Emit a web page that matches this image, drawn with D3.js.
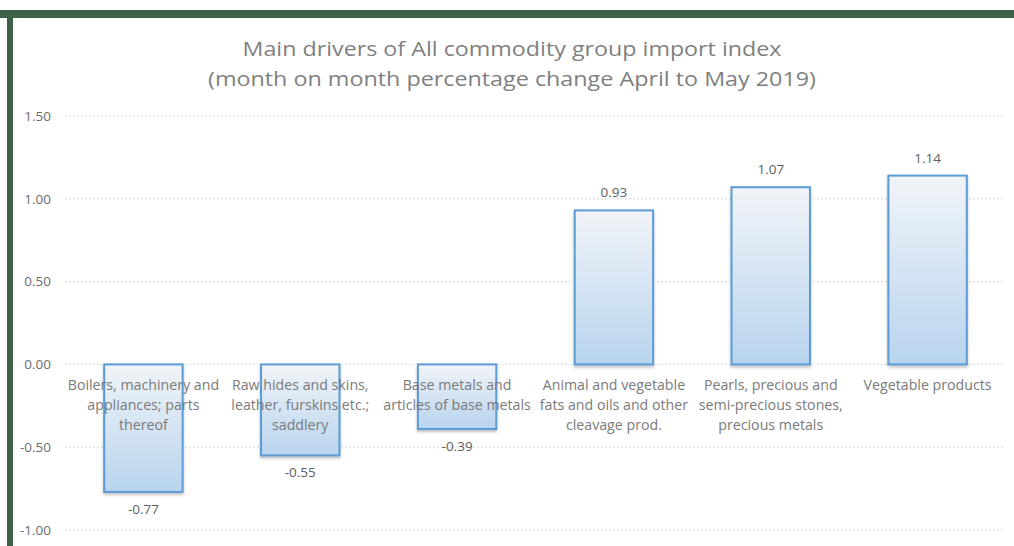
<!DOCTYPE html>
<html>
<head>
<meta charset="utf-8">
<script src="https://cdn.jsdelivr.net/npm/d3@7"></script>
<style>
  html, body { margin: 0; padding: 0; background: #fff; }
  svg { display: block; }
</style>
</head>
<body>
<svg id="chart" width="1014" height="546"></svg>
<script>
const categories = [
  ["Boilers, machinery and", "appliances; parts", "thereof"],
  ["Raw hides and skins,", "leather, furskins etc.;", "saddlery"],
  ["Base metals and", "articles of base metals"],
  ["Animal and vegetable", "fats and oils and other", "cleavage prod."],
  ["Pearls, precious and", "semi-precious stones,", "precious metals"],
  ["Vegetable products"]
];
const values = [-0.77, -0.55, -0.39, 0.93, 1.07, 1.14];
const yTicks = [-1.0, -0.5, 0.0, 0.5, 1.0, 1.5];
const titleLines = [
  "Main drivers of All commodity group import index",
  "(month on month percentage change April to May 2019)"
];
const titleWidths = [539, 608];

const svg = d3.select("#chart");
const W = 1014, H = 546;
const font = "'Open Sans', sans-serif";
const fmt = d => d3.format(".2f")(d).replace("\u2212", "-");

// frame
svg.append("rect").attr("x", 0).attr("y", 10).attr("width", W).attr("height", 8).attr("fill", "#3f6049");
svg.append("rect").attr("x", 7).attr("y", 10).attr("width", 6).attr("height", H - 10).attr("fill", "#3f6049");

const defs = svg.append("defs");
const grad = defs.append("linearGradient").attr("id", "barGrad")
  .attr("x1", 0).attr("y1", 0).attr("x2", 0).attr("y2", 1);
grad.append("stop").attr("offset", "0%").attr("stop-color", "#f1f4f8");
grad.append("stop").attr("offset", "100%").attr("stop-color", "#b8d4ee");
const filt = defs.append("filter").attr("id", "shadow").attr("x", "-20%").attr("y", "-20%").attr("width", "140%").attr("height", "140%");
filt.append("feDropShadow").attr("dx", 0).attr("dy", 2).attr("stdDeviation", 1.5)
  .attr("flood-color", "#000").attr("flood-opacity", 0.25);

const x = d3.scaleBand().domain(d3.range(values.length)).range([65, 1006]).paddingInner(0.5).paddingOuter(0.25);
const y = d3.scaleLinear().domain([-1.0, 1.5]).range([530, 116]);

// gridlines
svg.append("g").selectAll("line").data(yTicks).join("line")
  .attr("x1", 65).attr("x2", 1005)
  .attr("y1", d => y(d)).attr("y2", d => y(d))
  .attr("stroke", "#d9d9d9").attr("stroke-width", 1).attr("stroke-dasharray", "2,2");

// y axis
const yAxis = d3.axisLeft(y).tickValues(yTicks).tickFormat(fmt).tickSize(0).tickPadding(0);
const gy = svg.append("g").attr("transform", "translate(51,0)").call(yAxis);
gy.select(".domain").remove();
gy.selectAll("text").attr("font-family", font).attr("font-size", 13.5).attr("fill", "#6b6b6b");

// bars
svg.append("g").selectAll("rect").data(values).join("rect")
  .attr("x", (d, i) => x(i))
  .attr("width", x.bandwidth())
  .attr("y", d => y(Math.max(0, d)))
  .attr("height", d => Math.abs(y(d) - y(0)))
  .attr("fill", "url(#barGrad)")
  .attr("stroke", "#5b9bd5").attr("stroke-width", 2)
  .attr("filter", "url(#shadow)");

// category labels
const cg = svg.append("g");
categories.forEach((lines, i) => {
  const t = cg.append("text")
    .attr("x", x(i) + x.bandwidth() / 2)
    .attr("y", y(0) + 26)
    .attr("text-anchor", "middle")
    .attr("font-family", font).attr("font-size", 14.2).attr("fill", "#7a7a7a");
  lines.forEach((l, j) => {
    t.append("tspan").attr("x", x(i) + x.bandwidth() / 2).attr("dy", j === 0 ? 0 : 20).text(l);
  });
});

// value labels
svg.append("g").selectAll("text").data(values).join("text")
  .attr("x", (d, i) => x(i) + x.bandwidth() / 2)
  .attr("y", d => d >= 0 ? y(d) - 13 : y(d) + 22)
  .attr("text-anchor", "middle")
  .attr("font-family", font).attr("font-size", 13.5).attr("fill", "#606060")
  .text(fmt);

// title
svg.append("g").selectAll("text").data(titleLines).join("text")
  .attr("x", 512)
  .attr("y", (d, i) => 56 + i * 30)
  .attr("text-anchor", "middle")
  .attr("font-family", font).attr("font-size", 20).attr("fill", "#7f7f7f")
  .attr("textLength", (d, i) => titleWidths[i]).attr("lengthAdjust", "spacingAndGlyphs")
  .text(d => d);
</script>
</body>
</html>
